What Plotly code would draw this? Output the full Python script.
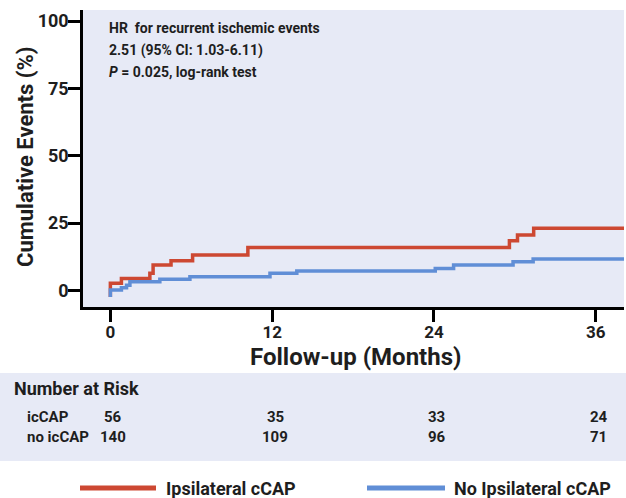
import plotly.graph_objects as go

# ---- data ----
red_t = [0, 0, 0.82, 2.93, 3.17, 4.5, 6.1, 10.2, 29.6, 30.2, 31.4, 38.5]
red_v = [-2.4, 2.7, 4.5, 6.4, 9.5, 11.1, 13.2, 16.0, 18.5, 20.6, 23.1, 23.1]
blue_t = [0, 0, 0.82, 1.2, 1.45, 3.67, 5.9, 11.84, 13.83, 24.1, 25.46, 29.87, 31.36, 38.5]
blue_v = [-2.4, 0.2, 1.0, 2.0, 3.3, 4.2, 5.1, 6.4, 7.3, 8.2, 9.5, 10.7, 11.7, 11.7]
risk_times = [0, 12, 24, 36]
risk_iccap = [56, 35, 33, 24]
risk_no_iccap = [140, 109, 96, 71]
x_ticks = [0, 12, 24, 36]
y_ticks = [0, 25, 50, 75, 100]
series_names = ["Ipsilateral cCAP", "No Ipsilateral cCAP"]

RED = "rgb(205,72,50)"
BLUE = "rgb(96,142,214)"
BG = "rgb(231,234,246)"
TXT = "#1e1e1e"
FONT = "Roboto, Arial"

fig = go.Figure()
fig.add_trace(go.Scatter(x=red_t, y=red_v, mode="lines", line=dict(color=RED, width=3.5, shape="hv"),
                         name=series_names[0], showlegend=False))
fig.add_trace(go.Scatter(x=blue_t, y=blue_v, mode="lines", line=dict(color=BLUE, width=3.5, shape="hv"),
                         name=series_names[1], showlegend=False))

W, H = 626, 498
L, R, T, B = 83, 2, 10, 191
pw, ph = W - L - R, H - T - B

def px(x):
    return (x - L) / pw

def py(y):
    return (H - B - y) / ph

fig.update_layout(
    width=W, height=H,
    margin=dict(l=L, r=R, t=T, b=B, pad=0),
    paper_bgcolor="white", plot_bgcolor=BG,
    font=dict(family=FONT, color=TXT, size=17),
    showlegend=False,
)
fig.update_xaxes(range=[-2.03, 38.1], tickvals=x_ticks, ticks="outside", ticklen=12, tickwidth=2.5,
                 tickcolor="black", showline=True, linecolor="black", linewidth=2.5, showgrid=False,
                 zeroline=False, ticklabelstandoff=-4, tickfont=dict(size=17, weight="bold"))
fig.update_yaxes(range=[-6.1, 104.1], tickvals=y_ticks, ticks="outside", ticklen=12, tickwidth=2.5,
                 tickcolor="black", showline=True, linecolor="black", linewidth=2.5, showgrid=False,
                 zeroline=False, ticklabelstandoff=-4, tickfont=dict(size=18, weight="bold"))

ann = []
stats = ["HR  for recurrent ischemic events", "2.51 (95% CI: 1.03-6.11)", "<i>P</i> = 0.025, log-rank test"]
for s, yy in zip(stats, [28, 50, 72]):
    ann.append(dict(text=s, x=px(107), y=py(yy), xref="paper", yref="paper", xanchor="left",
                    yanchor="middle", showarrow=False, font=dict(size=14, weight="bold")))
ann.append(dict(text="Cumulative Events (%)", x=px(25), y=py(157), xref="paper", yref="paper",
                xanchor="center", yanchor="middle",
                textangle=-90, showarrow=False, font=dict(size=22, weight="bold")))
ann.append(dict(text="Follow-up (Months)", x=px(355), y=py(357), xref="paper", yref="paper",
                xanchor="center", yanchor="middle",
                showarrow=False, font=dict(size=24, weight="bold")))
ann.append(dict(text="Number at Risk", x=px(12), y=py(388), xref="paper", yref="paper", xanchor="left",
                yanchor="middle", showarrow=False, font=dict(size=18, weight="bold")))
ann.append(dict(text="icCAP", x=px(25), y=py(417), xref="paper", yref="paper", xanchor="left",
                yanchor="middle", showarrow=False, font=dict(size=15, weight="bold")))
ann.append(dict(text="no icCAP", x=px(25), y=py(437), xref="paper", yref="paper", xanchor="left",
                yanchor="middle", showarrow=False, font=dict(size=15, weight="bold")))
for t, a, b in zip(risk_times, risk_iccap, risk_no_iccap):
    ann.append(dict(text=str(a), x=t, y=py(417), xref="x", yref="paper", xshift=3, yanchor="middle",
                    showarrow=False, font=dict(size=15, weight="bold")))
    ann.append(dict(text=str(b), x=t, y=py(437), xref="x", yref="paper", xshift=3, yanchor="middle",
                    showarrow=False, font=dict(size=15, weight="bold")))
ann.append(dict(text=series_names[0], x=px(164), y=py(488), xref="paper", yref="paper", xanchor="left",
                yanchor="middle", showarrow=False, font=dict(size=18, weight="bold")))
ann.append(dict(text=series_names[1], x=px(452), y=py(488), xref="paper", yref="paper", xanchor="left",
                yanchor="middle", showarrow=False, font=dict(size=18, weight="bold")))

shapes = [
    dict(type="rect", xref="paper", yref="paper", x0=px(0), x1=px(626), y0=py(373), y1=py(461),
         fillcolor=BG, line=dict(width=0), layer="below"),
    dict(type="line", xref="paper", yref="paper", x0=px(80), x1=px(156), y0=py(488), y1=py(488),
         line=dict(color=RED, width=5)),
    dict(type="line", xref="paper", yref="paper", x0=px(367), x1=px(445), y0=py(488), y1=py(488),
         line=dict(color=BLUE, width=5)),
]
fig.update_layout(annotations=ann, shapes=shapes)
fig.write_html("out.html", config={"displayModeBar": False},
               post_script="document.body.style.margin='0';")
